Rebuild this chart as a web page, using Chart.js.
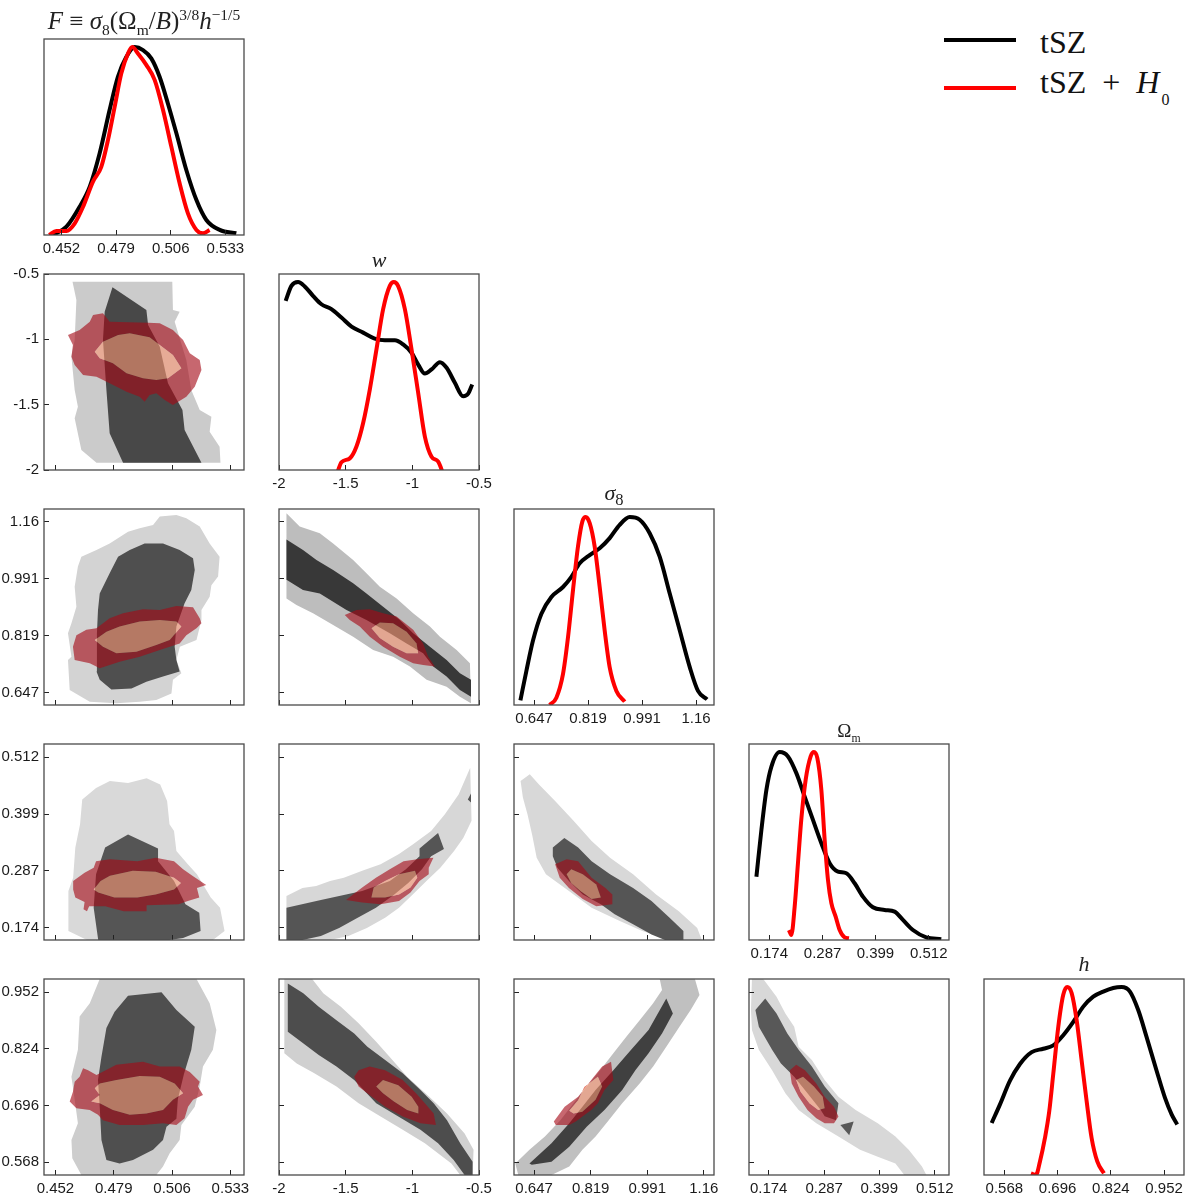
<!DOCTYPE html>
<html>
<head>
<meta charset="utf-8">
<script src="https://cdn.jsdelivr.net/npm/chart.js@4.4.1/dist/chart.umd.min.js"></script>
<style>
  body { margin: 0; background: #fff; }
  #fig { position: relative; width: 1189px; height: 1193px; overflow: hidden; }
  #fig canvas { position: absolute; }
  .ttl { position: absolute; transform: translateX(-50%); white-space: nowrap; line-height: 1;
         font-family: "Liberation Serif", "DejaVu Serif", serif; color: #222; }
  .ttl sub, .ttl sup { font-size: 62%; line-height: 0; }
  .swatch { position: absolute; height: 4px; }
  .legtxt { position: absolute; white-space: nowrap; line-height: 1; font-size: 32px;
            font-family: "Liberation Serif", "DejaVu Serif", serif; color: #111; }
  .legtxt sub { font-size: 50%; line-height: 0; position: relative; top: 5px; margin-left: 2px; }
</style>
</head>
<body>
<div id="fig"></div>
<script>
// ---------- parameter ticks ----------
const ticksF  = [0.452, 0.479, 0.506, 0.533];
const labelsF = ['0.452', '0.479', '0.506', '0.533'];
const ticksW  = [-2, -1.5, -1, -0.5];
const labelsW = ['-2', '-1.5', '-1', '-0.5'];
const ticksS8  = [0.647, 0.819, 0.991, 1.163];
const labelsS8 = ['0.647', '0.819', '0.991', '1.16'];
const ticksOm  = [0.174, 0.287, 0.399, 0.512];
const labelsOm = ['0.174', '0.287', '0.399', '0.512'];
const ticksH  = [0.568, 0.696, 0.824, 0.952];
const labelsH = ['0.568', '0.696', '0.824', '0.952'];

// axis limits of the 1D panels and of the 2D panels
const diagF = [0.4434, 0.5422], diagW = [-2, -0.5], diagS8 = [0.583, 1.22], diagOm = [0.131, 0.555], diagH = [0.519, 1.0];
const xF = [0.4467, 0.5393], xW = [-2, -0.5], xS8 = [0.586, 1.194], xOm = [0.134, 0.541];
const yW = [-2, -0.5], yS8 = [0.610, 1.202], yOm = [0.150, 0.538], yH = [0.539, 0.982];

// ---------- series ----------
const seriesNames = ['tSZ', 'tSZ + H0'];

// 1D marginal posteriors (peak normalised to 1)
const margF_tsz = [[0.4478,0],[0.4545,0.044],[0.4610,0.15],[0.4660,0.257],[0.4709,0.435],[0.4758,0.665],[0.4799,0.842],[0.4841,0.948],[0.4882,1.0],[0.4923,0.984],[0.4964,0.94],[0.5005,0.842],[0.5046,0.70],[0.5088,0.541],[0.5137,0.346],[0.5187,0.186],[0.5236,0.08],[0.5302,0.027],[0.5384,0.009]];
const margF_h0  = [[0.4459,0],[0.4495,0.021],[0.4545,0.021],[0.4586,0.062],[0.4627,0.15],[0.4676,0.284],[0.4717,0.363],[0.4750,0.505],[0.4783,0.682],[0.4816,0.86],[0.4849,0.966],[0.4870,1.0],[0.4898,0.966],[0.4940,0.904],[0.4981,0.824],[0.5022,0.665],[0.5063,0.47],[0.5104,0.275],[0.5145,0.115],[0.5187,0.027],[0.5219,0.009],[0.5252,0.027]];
const margW_tsz = [[-1.950,0.900],[-1.907,0.980],[-1.857,1.0],[-1.807,0.977],[-1.745,0.927],[-1.682,0.882],[-1.607,0.856],[-1.532,0.811],[-1.456,0.763],[-1.369,0.731],[-1.282,0.699],[-1.206,0.690],[-1.131,0.690],[-1.069,0.668],[-1.006,0.624],[-0.956,0.561],[-0.906,0.513],[-0.856,0.535],[-0.793,0.574],[-0.743,0.544],[-0.681,0.464],[-0.619,0.392],[-0.581,0.406],[-0.551,0.455]];
const margW_h0  = [[-1.565,-0.02],[-1.532,0.041],[-1.469,0.062],[-1.419,0.125],[-1.369,0.25],[-1.319,0.428],[-1.269,0.642],[-1.219,0.856],[-1.169,0.980],[-1.139,1.0],[-1.107,0.980],[-1.056,0.856],[-1.006,0.642],[-0.956,0.41],[-0.906,0.178],[-0.856,0.071],[-0.806,0.044],[-0.769,-0.02]];
const margS8_tsz = [[0.6034,0.025],[0.6225,0.182],[0.6435,0.343],[0.6703,0.486],[0.7021,0.575],[0.7391,0.628],[0.7658,0.682],[0.7922,0.754],[0.8241,0.798],[0.8559,0.834],[0.8878,0.888],[0.9196,0.959],[0.9515,1.0],[0.9833,0.986],[1.0152,0.914],[1.047,0.789],[1.079,0.593],[1.111,0.396],[1.143,0.2],[1.169,0.075],[1.198,0.03]];
const margS8_h0  = [[0.6967,0],[0.718,0.039],[0.739,0.164],[0.755,0.36],[0.7709,0.611],[0.7868,0.843],[0.8008,0.977],[0.8113,1.0],[0.8241,0.968],[0.84,0.843],[0.8559,0.628],[0.8718,0.396],[0.8878,0.2],[0.9091,0.075],[0.9356,0.018]];
const margOm_tsz = [[0.1467,0.337],[0.1573,0.586],[0.1679,0.799],[0.1785,0.923],[0.196,1.0],[0.2136,0.977],[0.2314,0.888],[0.249,0.763],[0.2666,0.639],[0.2844,0.515],[0.302,0.409],[0.3196,0.364],[0.3374,0.355],[0.355,0.302],[0.3725,0.231],[0.3937,0.174],[0.4185,0.16],[0.4397,0.151],[0.4573,0.107],[0.4785,0.053],[0.5068,0.014],[0.5386,0.004]];
const margOm_h0  = [[0.2157,0.053],[0.2208,0.027],[0.2278,0.177],[0.2348,0.409],[0.2418,0.639],[0.2511,0.852],[0.2617,0.977],[0.2687,1.0],[0.2759,0.968],[0.2844,0.799],[0.2914,0.533],[0.2984,0.32],[0.3056,0.196],[0.3147,0.124],[0.3232,0.053],[0.3338,0.014],[0.3429,0.009]];
const margH_tsz = [[0.5375,0.277],[0.5575,0.376],[0.5815,0.502],[0.6055,0.591],[0.6337,0.654],[0.6616,0.672],[0.6856,0.69],[0.7096,0.744],[0.7337,0.815],[0.7577,0.896],[0.7817,0.949],[0.8058,0.976],[0.8298,0.995],[0.8499,1.0],[0.8700,0.976],[0.8899,0.878],[0.9101,0.734],[0.9341,0.555],[0.9541,0.412],[0.9702,0.323],[0.9837,0.269]];
const margH_h0  = [[0.632,0.009],[0.644,0],[0.6536,0.072],[0.6656,0.197],[0.6760,0.34],[0.6856,0.538],[0.6976,0.788],[0.7096,0.959],[0.7192,1.0],[0.7298,0.968],[0.7418,0.824],[0.7538,0.609],[0.7658,0.394],[0.7778,0.197],[0.7914,0.072],[0.8075,0.009]];

// 2D credible regions: L = tSZ 95%, D = tSZ 68%, R = tSZ+H0 95%, P = tSZ+H0 68%
// w vs F
const wF_L = [[.4599,-.559],[.5061,-.559],[.5064,-.776],[.5095,-.789],[.5072,-.865],[.5126,-1.158],[.5149,-1.388],[.5188,-1.541],[.5242,-1.592],[.5234,-1.707],[.5280,-1.822],[.5284,-1.944],[.4710,-1.944],[.4640,-1.847],[.4609,-1.604],[.4624,-1.516],[.4609,-1.388],[.4594,-1.133],[.4609,-1.005],[.4617,-.699]];
const wF_D = [[.4784,-.602],[.4941,-.776],[.4949,-.890],[.5003,-1.056],[.5041,-1.336],[.5108,-1.541],[.5118,-1.694],[.5196,-1.944],[.4833,-1.944],[.4771,-1.719],[.4756,-1.388],[.4740,-1.005],[.4748,-.789]];
const wF_R = [[.4578,-.967],[.4632,-.929],[.4679,-.865],[.4694,-.814],[.4740,-.801],[.4771,-.865],[.4949,-.873],[.5003,-.877],[.5064,-.929],[.5111,-1.005],[.5142,-1.107],[.5188,-1.158],[.5196,-1.235],[.5165,-1.362],[.5126,-1.439],[.5064,-1.503],[.5026,-1.464],[.4987,-1.413],[.4956,-1.426],[.4933,-1.477],[.4910,-1.439],[.4849,-1.401],[.4771,-1.336],[.4710,-1.286],[.4648,-1.273],[.4609,-1.196],[.4594,-1.133],[.4601,-1.043]];
const wF_P = [[.4702,-1.095],[.4740,-1.018],[.4810,-.967],[.4864,-.954],[.4956,-.984],[.5003,-1.043],[.5064,-1.120],[.5103,-1.222],[.5041,-1.298],[.4987,-1.311],[.4925,-1.298],[.4849,-1.260],[.4786,-1.183],[.4725,-1.145]];
// sigma8 vs F
const s8F_L = [[.4640,1.058],[.4710,1.078],[.4771,1.098],[.4856,1.133],[.4910,1.144],[.4972,1.154],[.5003,1.179],[.5080,1.184],[.5126,1.174],[.5188,1.149],[.5234,1.098],[.5280,1.058],[.5273,.998],[.5242,.972],[.5234,.937],[.5196,.897],[.5196,.867],[.5173,.806],[.5096,.786],[.5080,.746],[.5103,.706],[.5064,.686],[.5057,.645],[.4987,.625],[.4910,.620],[.4802,.615],[.4679,.620],[.4586,.655],[.4578,.746],[.4594,.756],[.4578,.827],[.4594,.857],[.4617,.907],[.4609,.967],[.4624,1.028]];
const s8F_D = [[.4717,.897],[.4725,.947],[.4771,1.008],[.4810,1.058],[.4864,1.078],[.4933,1.098],[.5018,1.098],[.5095,1.078],[.5157,1.053],[.5165,1.018],[.5149,.957],[.5118,.917],[.5080,.847],[.5072,.786],[.5080,.746],[.5095,.711],[.5018,.696],[.4941,.680],[.4872,.660],[.4779,.657],[.4725,.686],[.4710,.711],[.4712,.827]];
const s8F_R = [[.4601,.786],[.4617,.821],[.4663,.837],[.4710,.842],[.4771,.872],[.4833,.887],[.4925,.899],[.5003,.897],[.5080,.909],[.5157,.905],[.5188,.872],[.5196,.857],[.5173,.842],[.5126,.821],[.5095,.796],[.5003,.776],[.4910,.756],[.4817,.741],[.4725,.721],[.4679,.736],[.4609,.746]];
const s8F_P = [[.4702,.806],[.4756,.831],[.4817,.847],[.4910,.862],[.5003,.867],[.5080,.862],[.5103,.847],[.5049,.806],[.4987,.791],[.4895,.771],[.4802,.766],[.4740,.786]];
// sigma8 vs w
const s8W_L = [[-1.944,1.189],[-1.845,1.149],[-1.694,1.129],[-1.594,1.098],[-1.444,1.048],[-1.344,1.008],[-1.244,.967],[-1.118,.932],[-.994,.887],[-.868,.847],[-.793,.816],[-.668,.776],[-.568,.736],[-.560,.615],[-.643,.635],[-.743,.665],[-.893,.686],[-1.018,.726],[-1.144,.756],[-1.294,.776],[-1.444,.816],[-1.594,.852],[-1.745,.887],[-1.869,.912],[-1.944,.932]];
const s8W_D = [[-1.944,1.110],[-1.820,1.078],[-1.719,1.048],[-1.594,1.018],[-1.444,.978],[-1.344,.947],[-1.219,.907],[-1.094,.867],[-.994,.827],[-.868,.786],[-.743,.746],[-.643,.706],[-.560,.686],[-.560,.635],[-.643,.655],[-.743,.696],[-.843,.726],[-.919,.766],[-1.043,.796],[-1.169,.827],[-1.344,.867],[-1.494,.897],[-1.694,.947],[-1.820,.957],[-1.944,.988]];
const s8W_R = [[-1.507,.882],[-1.419,.897],[-1.319,.899],[-1.219,.887],[-1.118,.877],[-.994,.837],[-.919,.796],[-.881,.756],[-.831,.726],[-.919,.731],[-.994,.736],[-1.094,.756],[-1.219,.786],[-1.319,.816],[-1.394,.847],[-1.469,.867]];
const s8W_P = [[-1.306,.842],[-1.244,.859],[-1.144,.857],[-1.043,.831],[-.968,.796],[-.956,.766],[-1.043,.766],[-1.144,.786],[-1.244,.812]];
// Omega_m vs F
const omF_L = [[.4644,.428],[.4708,.451],[.4772,.465],[.4856,.461],[.4942,.470],[.5005,.458],[.5037,.425],[.5048,.379],[.5069,.366],[.5080,.326],[.5133,.300],[.5175,.280],[.5239,.234],[.5282,.214],[.5303,.168],[.5249,.150],[.4666,.150],[.4580,.168],[.4580,.247],[.4602,.273],[.4612,.333],[.4634,.379]];
const omF_D = [[.4750,.333],[.4856,.359],[.4995,.331],[.4995,.306],[.5069,.267],[.5122,.221],[.5186,.204],[.5192,.168],[.5111,.154],[.5048,.150],[.4718,.150],[.4697,.214],[.4708,.280]];
const omF_R = [[.4602,.267],[.4655,.283],[.4697,.293],[.4708,.306],[.4772,.310],[.4899,.306],[.4984,.313],[.5069,.306],[.5111,.290],[.5154,.277],[.5218,.259],[.5175,.253],[.5186,.234],[.5133,.227],[.5090,.221],[.4942,.219],[.4942,.207],[.4836,.207],[.4750,.217],[.4676,.217],[.4666,.207],[.4650,.211],[.4655,.225],[.4612,.234],[.4602,.250]];
const omF_P = [[.4697,.250],[.4729,.267],[.4772,.277],[.4878,.287],[.4984,.285],[.5069,.273],[.5101,.263],[.5069,.250],[.4984,.240],[.4899,.234],[.4793,.234],[.4718,.244]];
// Omega_m vs w
const omW_L = [[-1.944,.237],[-1.824,.253],[-1.721,.257],[-1.617,.267],[-1.514,.273],[-1.376,.287],[-1.238,.300],[-1.100,.320],[-.997,.339],[-.859,.366],[-.756,.399],[-.653,.438],[-.566,.491],[-.556,.386],[-.618,.352],[-.687,.326],[-.790,.293],[-.894,.267],[-.997,.240],[-1.100,.214],[-1.204,.194],[-1.341,.174],[-1.480,.158],[-1.617,.150],[-1.944,.150]];
const omW_D = [[-1.944,.214],[-1.686,.229],[-1.376,.247],[-1.169,.267],[-1.048,.290],[-.946,.316],[-.946,.331],[-.807,.362],[-.763,.330],[-.859,.316],[-.928,.290],[-1.031,.263],[-1.135,.240],[-1.273,.214],[-1.410,.194],[-1.549,.174],[-1.686,.158],[-1.824,.150],[-1.944,.150]];
const omW_D2 = [[-.584,.428],[-.560,.440],[-.560,.422]];
const omW_R = [[-1.497,.229],[-1.445,.240],[-1.376,.254],[-1.273,.273],[-1.169,.290],[-1.066,.306],[-.963,.310],[-.842,.313],[-.877,.293],[-.877,.280],[-.946,.267],[-1.014,.244],[-1.100,.227],[-1.238,.221],[-1.376,.224]];
const omW_P = [[-1.307,.234],[-1.290,.254],[-1.204,.267],[-1.100,.280],[-.980,.287],[-.963,.273],[-1.014,.254],[-1.100,.240],[-1.204,.234]];
// Omega_m vs sigma8
const omS8_L = [[.606,.465],[.634,.478],[.662,.458],[.711,.425],[.767,.386],[.822,.346],[.878,.313],[.948,.280],[1.018,.240],[1.087,.207],[1.143,.174],[1.157,.150],[1.087,.150],[1.032,.156],[.976,.168],[.906,.188],[.822,.214],[.753,.247],[.683,.280],[.655,.313],[.641,.359],[.627,.399],[.613,.432]];
const omS8_D = [[.704,.333],[.739,.352],[.781,.333],[.822,.306],[.878,.280],[.948,.253],[1.004,.227],[1.059,.194],[1.101,.168],[1.101,.150],[1.045,.150],[1.004,.161],[.948,.181],[.892,.201],[.850,.221],[.795,.240],[.753,.267],[.718,.293],[.704,.316]];
const omS8_R = [[.711,.300],[.746,.310],[.781,.306],[.822,.273],[.864,.253],[.885,.240],[.885,.221],[.836,.217],[.795,.231],[.753,.253],[.725,.273]];
const omS8_P = [[.746,.280],[.760,.290],[.795,.280],[.836,.260],[.850,.234],[.822,.231],[.788,.247],[.760,.263]];
// h vs F
const hF_L = [[.4725,.982],[.5173,.982],[.5234,.927],[.5265,.867],[.5249,.822],[.5203,.784],[.5188,.739],[.5165,.693],[.5103,.652],[.5095,.618],[.5049,.588],[.5018,.558],[.4987,.539],[.4640,.539],[.4598,.577],[.4594,.618],[.4624,.656],[.4609,.709],[.4594,.761],[.4624,.822],[.4632,.897],[.4679,.927]];
const hF_D = [[.4856,.944],[.5011,.952],[.5080,.912],[.5165,.874],[.5149,.822],[.5115,.767],[.5087,.711],[.5080,.666],[.5034,.648],[.5018,.618],[.4972,.596],[.4879,.573],[.4817,.565],[.4756,.573],[.4733,.618],[.4725,.693],[.4717,.754],[.4733,.806],[.4756,.871],[.4794,.908]];
const hF_R = [[.4648,.780],[.4671,.776],[.4710,.765],[.4802,.788],[.4925,.795],[.5003,.784],[.5095,.784],[.5142,.772],[.5188,.750],[.5180,.739],[.5203,.720],[.5157,.709],[.5134,.693],[.5118,.667],[.5080,.652],[.5018,.656],[.4925,.652],[.4817,.652],[.4740,.663],[.4717,.675],[.4679,.686],[.4617,.690],[.4586,.705],[.4601,.727],[.4609,.750],[.4632,.761]];
const hF_P = [[.4702,.735],[.4725,.746],[.4802,.754],[.4910,.763],[.5003,.761],[.5072,.746],[.5111,.724],[.5064,.709],[.5018,.686],[.4941,.678],[.4864,.675],[.4786,.686],[.4725,.701],[.4686,.705],[.4725,.720]];
// h vs w
const hW_L = [[-1.960,.982],[-1.751,.982],[-1.668,.950],[-1.536,.919],[-1.403,.882],[-1.271,.840],[-1.171,.806],[-1.039,.761],[-.873,.716],[-.740,.678],[-.608,.633],[-.541,.596],[-.548,.539],[-.641,.539],[-.707,.565],[-.906,.611],[-1.072,.641],[-1.238,.671],[-1.403,.701],[-1.569,.739],[-1.735,.769],[-1.867,.791],[-1.960,.814]];
const hW_D = [[-1.934,.972],[-1.818,.950],[-1.702,.919],[-1.569,.889],[-1.436,.859],[-1.337,.829],[-1.204,.799],[-1.072,.769],[-.939,.731],[-.840,.701],[-.740,.663],[-.641,.611],[-.548,.569],[-.548,.539],[-.608,.539],[-.690,.573],[-.807,.611],[-.939,.641],[-1.105,.671],[-1.271,.701],[-1.436,.754],[-1.569,.784],[-1.702,.810],[-1.834,.840],[-1.934,.863]];
const hW_R = [[-1.436,.761],[-1.403,.776],[-1.320,.784],[-1.204,.776],[-1.072,.754],[-.972,.724],[-.906,.701],[-.840,.678],[-.823,.652],[-.939,.656],[-1.072,.671],[-1.204,.693],[-1.304,.716],[-1.403,.739]];
const hW_P = [[-1.271,.739],[-1.220,.754],[-1.105,.742],[-1.005,.716],[-.955,.693],[-.955,.678],[-1.039,.686],[-1.138,.705],[-1.220,.724]];
// h vs sigma8
const hS8_L = [[.599,.539],[.590,.565],[.633,.596],[.680,.626],[.727,.663],[.767,.701],[.807,.739],[.848,.776],[.888,.814],[.928,.852],[.968,.889],[1.009,.927],[1.036,.957],[1.029,.982],[1.136,.982],[1.150,.946],[1.123,.912],[1.089,.874],[1.049,.829],[1.009,.784],[.968,.746],[.915,.701],[.874,.663],[.834,.626],[.794,.596],[.754,.558],[.700,.539]];
const hS8_D = [[.633,.565],[.700,.611],[.754,.656],[.794,.693],[.834,.731],[.888,.776],[.942,.822],[.995,.867],[1.049,.938],[1.069,.904],[1.036,.859],[.995,.814],[.955,.776],[.915,.731],[.861,.686],[.807,.648],[.754,.603],[.700,.569],[.640,.562]];
const hS8_R = [[.707,.660],[.740,.693],[.781,.716],[.821,.754],[.854,.784],[.881,.795],[.888,.754],[.861,.731],[.841,.701],[.821,.686],[.794,.671],[.774,.660],[.754,.652],[.713,.652]];
const hS8_P = [[.754,.684],[.781,.708],[.800,.738],[.841,.761],[.854,.739],[.834,.709],[.794,.682],[.767,.678]];
// h vs Omega_m
const hOm_L = [[.140,.982],[.163,.982],[.190,.942],[.208,.904],[.226,.874],[.235,.829],[.262,.799],[.288,.754],[.316,.716],[.351,.686],[.396,.656],[.432,.626],[.459,.596],[.486,.558],[.495,.539],[.450,.539],[.432,.565],[.396,.580],[.360,.596],[.316,.626],[.271,.656],[.235,.686],[.208,.724],[.181,.776],[.154,.822],[.140,.867],[.138,.912]];
const hOm_D = [[.147,.912],[.167,.938],[.190,.904],[.212,.859],[.235,.822],[.262,.784],[.288,.739],[.316,.701],[.311,.663],[.288,.672],[.280,.686],[.253,.724],[.226,.761],[.199,.791],[.181,.822],[.154,.874]];
const hOm_D2 = [[.320,.652],[.347,.660],[.338,.629]];
const hOm_R = [[.217,.776],[.230,.788],[.248,.776],[.271,.746],[.288,.716],[.307,.693],[.316,.671],[.307,.656],[.288,.656],[.271,.667],[.253,.686],[.235,.716],[.221,.746]];
const hOm_P = [[.230,.754],[.244,.761],[.266,.739],[.284,.716],[.288,.690],[.275,.686],[.257,.701],[.239,.727]];

// ---------- layout & style ----------
const COLS = [44, 279, 514, 749, 984];
const ROWS = [39, 274, 509, 744, 979];
const PAD_L = 50, PAD_T = 10, PAD_R = 40, PAD_B = 10, X_AX = 30;
const CW = PAD_L + 200 + PAD_R, CH = PAD_T + 196 + X_AX + PAD_B;
const RED = '#ff0000', BLACK = '#000000';
const RING = 'rgba(165,10,22,0.62)';
const CORE = 'rgba(250,150,115,0.60)';

const params = [
  {name: 'F',  diag: diagF,  x: xF,  y: null, ticks: ticksF,  labels: labelsF,  m: [margF_tsz,  margF_h0]},
  {name: 'w',  diag: diagW,  x: xW,  y: yW,   ticks: ticksW,  labels: labelsW,  m: [margW_tsz,  margW_h0]},
  {name: 's8', diag: diagS8, x: xS8, y: yS8,  ticks: ticksS8, labels: labelsS8, m: [margS8_tsz, margS8_h0]},
  {name: 'Om', diag: diagOm, x: xOm, y: yOm,  ticks: ticksOm, labels: labelsOm, m: [margOm_tsz, margOm_h0]},
  {name: 'h',  diag: diagH,  x: null, y: yH,  ticks: ticksH,  labels: labelsH,  m: [margH_tsz,  margH_h0]}
];

const pairs = [
  {r: 1, c: 0, L: wF_L,  D: [wF_D],  R: wF_R,  P: wF_P,  light: '#cbcbcb', dark: '#484848'},
  {r: 2, c: 0, L: s8F_L, D: [s8F_D], R: s8F_R, P: s8F_P, light: '#d3d3d3', dark: '#4f4f4f'},
  {r: 2, c: 1, L: s8W_L, D: [s8W_D], R: s8W_R, P: s8W_P, light: '#bdbdbd', dark: '#383838'},
  {r: 3, c: 0, L: omF_L, D: [omF_D], R: omF_R, P: omF_P, light: '#d9d9d9', dark: '#555555'},
  {r: 3, c: 1, L: omW_L, D: [omW_D, omW_D2], R: omW_R, P: omW_P, light: '#d7d7d7', dark: '#555555'},
  {r: 3, c: 2, L: omS8_L, D: [omS8_D], R: omS8_R, P: omS8_P, light: '#d8d8d8', dark: '#555555'},
  {r: 4, c: 0, L: hF_L,  D: [hF_D],  R: hF_R,  P: hF_P,  light: '#cdcdcd', dark: '#4f4f4f'},
  {r: 4, c: 1, L: hW_L,  D: [hW_D],  R: hW_R,  P: hW_P,  light: '#d0d0d0', dark: '#4d4d4d'},
  {r: 4, c: 2, L: hS8_L, D: [hS8_D], R: hS8_R, P: hS8_P, light: '#c0c0c0', dark: '#404040'},
  {r: 4, c: 3, L: hOm_L, D: [hOm_D, hOm_D2], R: hOm_R, P: hOm_P, light: '#d8d8d8', dark: '#585858'}
];

// ---------- helpers ----------
Chart.defaults.font.family = '"Liberation Sans", Arial, sans-serif';
Chart.defaults.animation = false;

const framePlugin = {
  id: 'frame',
  afterDraw(chart) {
    const {ctx, chartArea: a} = chart;
    ctx.save();
    ctx.strokeStyle = '#4a4a4a';
    ctx.lineWidth = 1.3;
    ctx.strokeRect(a.left, a.top, a.right - a.left, a.bottom - a.top);
    ctx.restore();
  }
};

function axis(isX, range, ticks, labels, showLabels) {
  return {
    type: 'linear', position: isX ? 'bottom' : 'left', min: range[0], max: range[1],
    afterBuildTicks: s => { s.ticks = ticks.map(v => ({value: v})); },
    afterFit: s => {
      if (isX) s.height = X_AX; else s.width = PAD_L;
      s.paddingLeft = s.paddingRight = s.paddingTop = s.paddingBottom = 0;
    },
    grid: {display: ticks.length > 0, drawOnChartArea: false, drawTicks: true, tickLength: -5,
           tickColor: '#222', tickWidth: 1, z: 1},
    border: {display: false},
    ticks: {display: showLabels, padding: 10, autoSkip: false, maxRotation: 0, minRotation: 0,
            color: '#1a1a1a', font: {size: 15}, callback: (v, i) => labels[i]}
  };
}

function signedArea(p) {
  let s = 0;
  for (let i = 0; i < p.length; i++) {
    const a = p[i], b = p[(i + 1) % p.length];
    s += a[0] * b[1] - b[0] * a[1];
  }
  return s;
}
const toXY = pts => pts.map(([x, y]) => ({x, y}));

// outer region with the inner region cut out (opposite winding -> hole)
function ringPoints(outer, inner) {
  const o = signedArea(outer) > 0 ? outer : outer.slice().reverse();
  const i = signedArea(inner) < 0 ? inner : inner.slice().reverse();
  return toXY([...o, o[0], ...i, i[0]]);
}

function region(points, color, order) {
  return {data: points, fill: 'shape', backgroundColor: color, borderWidth: 0,
          pointRadius: 0, tension: 0, order: order};
}

const fig = document.getElementById('fig');
function makeCanvas(r, c) {
  const cv = document.createElement('canvas');
  cv.width = CW; cv.height = CH;
  cv.style.left = (COLS[c] - PAD_L) + 'px';
  cv.style.top = (ROWS[r] - PAD_T) + 'px';
  cv.style.width = CW + 'px'; cv.style.height = CH + 'px';
  fig.appendChild(cv);
  return cv;
}

const baseOptions = (scales) => ({
  responsive: false, devicePixelRatio: 1, animation: false,
  layout: {padding: {left: 0, top: PAD_T, right: PAD_R, bottom: PAD_B}},
  plugins: {legend: {display: false}, tooltip: {enabled: false}},
  scales: scales
});

// ---------- 1D panels ----------
params.forEach((p, k) => {
  new Chart(makeCanvas(k, k), {
    type: 'line',
    data: {datasets: [
      {label: seriesNames[1], data: toXY(p.m[1]), borderColor: RED, borderWidth: 4, pointRadius: 0,
       cubicInterpolationMode: 'monotone', fill: false, order: 0},
      {label: seriesNames[0], data: toXY(p.m[0]), borderColor: BLACK, borderWidth: 4, pointRadius: 0,
       cubicInterpolationMode: 'monotone', fill: false, order: 1}
    ]},
    options: baseOptions({
      x: axis(true, p.diag, p.ticks, p.labels, true),
      y: axis(false, [0, 1.043], [], [], false)
    }),
    plugins: [framePlugin]
  });
});

// ---------- 2D panels ----------
pairs.forEach(q => {
  const px = params[q.c], py = params[q.r];
  const sets = [region(toXY(q.L), q.light, 4)];
  q.D.forEach(d => sets.push(region(toXY(d), q.dark, 3)));
  sets.push(region(ringPoints(q.R, q.P), RING, 2));
  sets.push(region(toXY(q.P), CORE, 1));
  new Chart(makeCanvas(q.r, q.c), {
    type: 'line',
    data: {datasets: sets},
    options: baseOptions({
      x: axis(true, px.x, px.ticks, px.labels, q.r === 4),
      y: axis(false, py.y, py.ticks, py.labels, q.c === 0)
    }),
    plugins: [framePlugin]
  });
});

// ---------- panel titles ----------
const titles = [
  {x: 144, top: 8, size: 25, html: '<i>F</i> &#8801; <i>&#963;</i><sub>8</sub>(&#937;<sub>m</sub>/<i>B</i>)<sup>3/8</sup><i>h</i><sup>&#8722;1/5</sup>'},
  {x: 379, top: 249, size: 22, html: '<i>w</i>'},
  {x: 614, top: 482, size: 22, html: '<i>&#963;</i><sub style="font-size:75%">8</sub>'},
  {x: 849, top: 721, size: 19, html: '&#937;<sub>m</sub>'},
  {x: 1084, top: 953, size: 22, html: '<i>h</i>'}
];
titles.forEach(t => {
  const d = document.createElement('div');
  d.className = 'ttl';
  d.style.left = t.x + 'px'; d.style.top = t.top + 'px'; d.style.fontSize = t.size + 'px';
  d.innerHTML = t.html;
  fig.appendChild(d);
});

// ---------- legend ----------
const legendColors = [BLACK, RED];
const legendHtml = ['tSZ', 'tSZ&ensp;+&ensp;<i>H</i><sub>0</sub>'];
legendColors.forEach((col, i) => {
  const sw = document.createElement('div');
  sw.className = 'swatch';
  sw.style.cssText = `left:944px;top:${38 + i * 48}px;width:72px;background:${col};`;
  fig.appendChild(sw);
  const tx = document.createElement('div');
  tx.className = 'legtxt';
  tx.style.left = '1040px'; tx.style.top = (26 + i * 40) + 'px';
  tx.innerHTML = legendHtml[i];
  tx.title = seriesNames[i];
  fig.appendChild(tx);
});
</script>
</body>
</html>
